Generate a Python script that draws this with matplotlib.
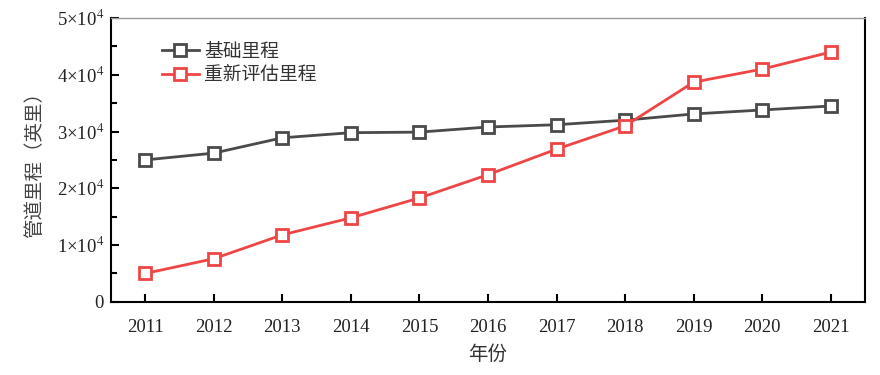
import matplotlib
matplotlib.use('Agg')
import matplotlib.pyplot as plt
from matplotlib.ticker import MultipleLocator, FuncFormatter

plt.rcParams['font.family'] = ['Liberation Serif', 'Noto Sans CJK SC']
plt.rcParams['mathtext.fontset'] = 'stix'

# 数据
years = [2011, 2012, 2013, 2014, 2015, 2016, 2017, 2018, 2019, 2020, 2021]
base_miles = [25000, 26200, 28900, 29800, 29900, 30800, 31200, 32000, 33100, 33800, 34500]
reval_miles = [5000, 7600, 11800, 14800, 18300, 22400, 26900, 31000, 38700, 41000, 44000]
labels = ['基础里程', '重新评估里程']
colors = ['#4a4a4a', '#f04545']

fig = plt.figure(figsize=(8.8, 3.75), dpi=100)
ax = fig.add_axes([0.126, 0.195, 0.857, 0.757])

for vals, lab, c in zip([base_miles, reval_miles], labels, colors):
    ax.plot(years, vals, color=c, lw=2, marker='s', ms=9, mfc='white',
            mec=c, mew=2, label=lab)

ax.set_xlim(2010.5, 2021.5)
ax.set_ylim(0, 50000)
ax.set_xticks(years)
ax.yaxis.set_major_locator(MultipleLocator(10000))
ax.yaxis.set_minor_locator(MultipleLocator(5000))

def fmt(v, pos):
    n = int(round(v / 10000))
    return '0' if n == 0 else f'{n}×10$^{{4}}$'

ax.yaxis.set_major_formatter(FuncFormatter(fmt))
ax.tick_params(axis='both', direction='in', labelsize=13.5, width=1.5,
               labelcolor='#222222')
ax.tick_params(axis='y', which='major', length=6, pad=5)
ax.tick_params(axis='y', which='minor', direction='in', length=4, width=1.5)
ax.tick_params(axis='x', length=6, pad=12)

for s in ['left', 'bottom', 'right']:
    ax.spines[s].set_linewidth(1.5)
ax.spines['top'].set_linewidth(1.0)
ax.spines['top'].set_color('#999999')

cjk = ['Noto Sans CJK SC', 'Liberation Serif']
ax.set_xlabel('年份', fontsize=14, family=cjk, labelpad=6, color='#333333')
ax.set_ylabel('管道里程（英里）', fontsize=14, family=cjk, labelpad=8,
              color='#444444')

ax.legend(loc='upper left', bbox_to_anchor=(0.045, 0.98), frameon=False,
          prop={'family': cjk, 'size': 13.5}, handlelength=2.0,
          labelspacing=0.15, handletextpad=0.25, labelcolor='#333333')

plt.savefig('out.png', dpi=100)
